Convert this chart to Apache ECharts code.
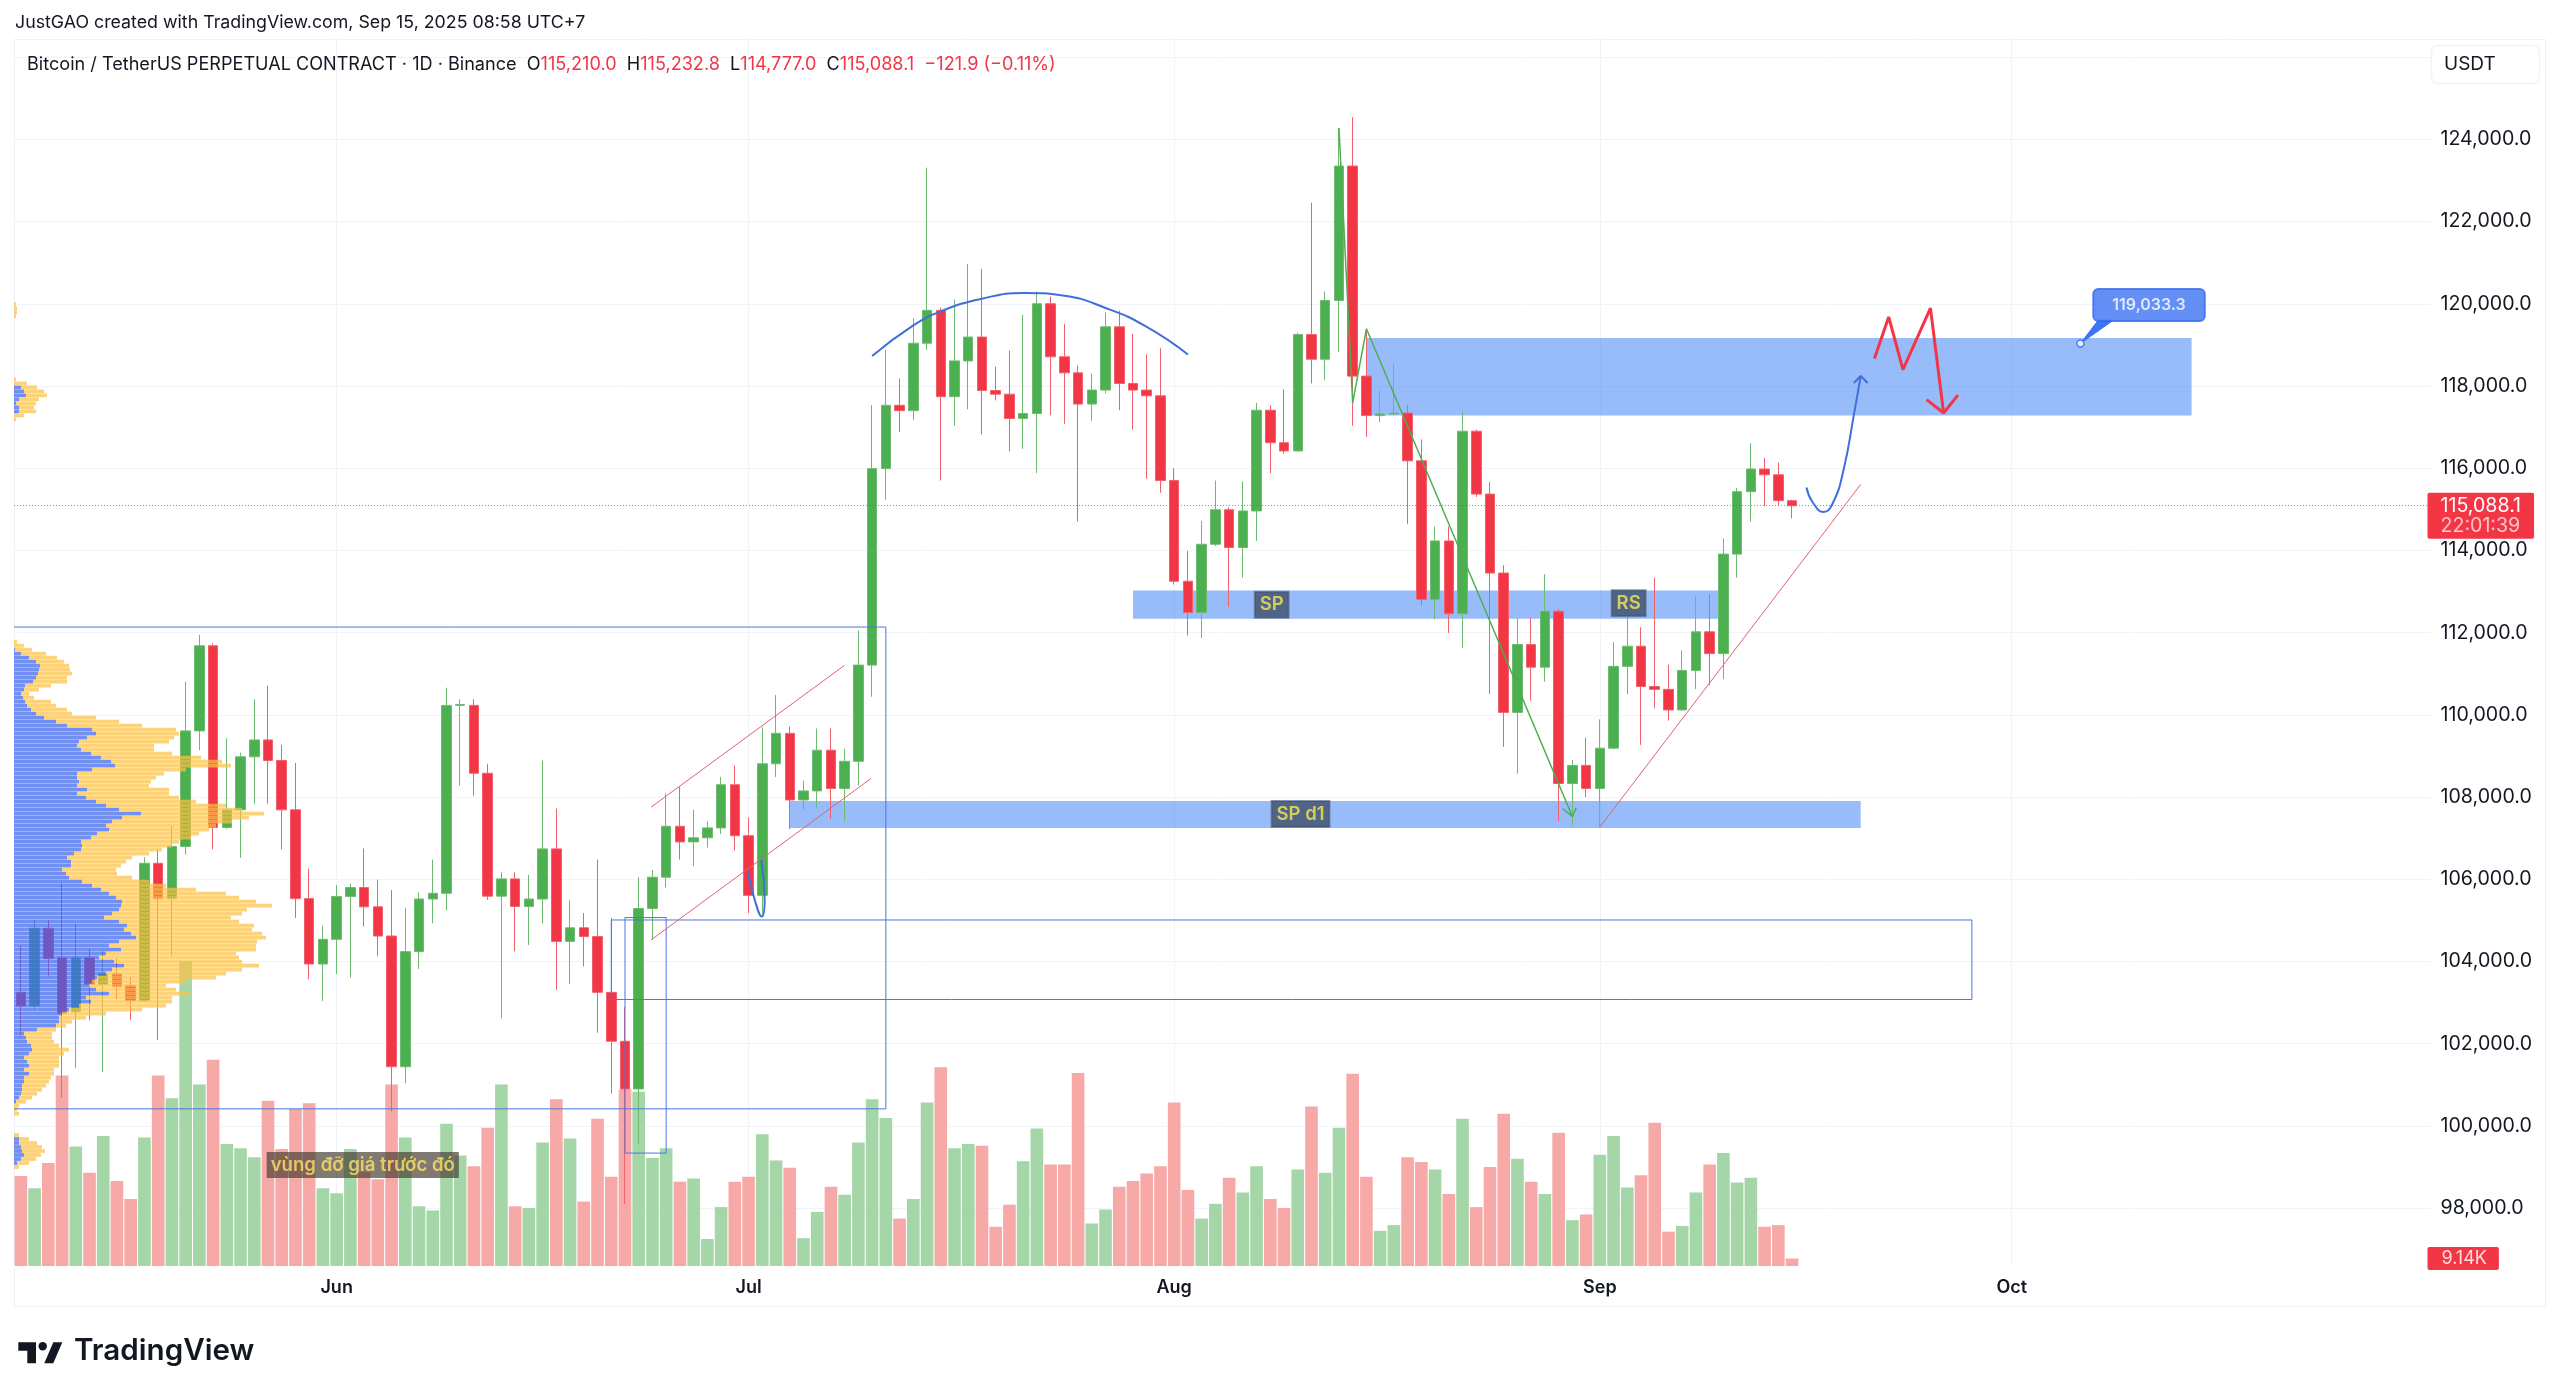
<!DOCTYPE html>
<html>
<head>
<meta charset="UTF-8">
<title>BTCUSDT.P 1D</title>
<script src="https://cdn.jsdelivr.net/npm/echarts@6/dist/echarts.min.js"></script>
<style>
body{margin:0;background:#fff}
</style>
</head>
<body>
<div id="main" style="width:2560px;height:1398px"></div>
<script>
// daily candles, May 9 to Sep 15 2025
var opens = [
 103250,102920,104810,104090,102790,104090,103450,103700,103410,103050,106390,105530,106800,109610,111680,107260,107690,108980,109390,108890,107690,105530,103940,
 104540,105580,105800,105330,104620,101440,104240,105520,105660,110230,110230,108580,105590,106010,105340,105520,106740,104490,104820,104610,103250,102060,100900,105290,106050,107290,106910,107010,107250,108300,
 107060,105610,108810,109550,107930,108150,109140,108210,108870,111210,115990,117530,117400,119040,119840,117740,118610,119190,117890,117800,117210,117330,120000,118710,118320,117560,117900,119440,118060,117900,117760,
 115700,113250,112490,114150,114990,114070,114960,117410,116620,116420,119250,118650,120080,123350,118240,117280,117320,117340,116180,112810,114230,112460,116900,115370,113450,110060,111710,111160,112520,108330,108770,
 108210,109190,111180,111670,110690,110620,110120,111080,112020,111490,113910,115430,115980,115840,115210
];
var closes = [
 102920,104810,104070,102740,104090,103450,103700,103390,103050,106390,105530,106800,109610,111680,107260,107690,108980,109390,108890,107690,105530,103940,104540,
 105580,105800,105330,104620,101440,104240,105520,105660,110230,110250,108580,105590,106010,105340,105520,106740,104490,104820,104610,103250,102060,100900,105290,106050,107290,106910,107010,107250,108300,107060,
 105610,108810,109550,107930,108150,109140,108210,108870,111210,115990,117530,117400,119040,119840,117740,118610,119190,117890,117800,117210,117330,120000,118710,118320,117560,117900,119440,118060,117900,117760,115700,
 113250,112490,114150,114990,114070,114960,117410,116620,116420,119250,118650,120080,123350,118240,117280,117320,117340,116180,112810,114230,112460,116900,115370,113450,110060,111710,111160,112520,108330,108770,108210,
 109190,111180,111670,110690,110620,110120,111080,112020,111490,113910,115430,115980,115840,115210,115088.1
];
var highs = [
 104380,105000,105000,105920,104930,104310,104250,104070,103630,106540,106730,107290,110810,111950,111740,109430,109080,110380,110710,109270,108830,106260,104870,
 105860,105900,106750,105990,105740,105310,105680,106480,110660,110380,110380,108810,106170,106170,106110,108890,107720,105490,105180,106480,105060,102890,106050,106230,108090,108250,107690,107410,108490,108770,
 107510,109700,110480,109720,108400,109670,109670,109180,112050,117530,118880,118180,119650,123310,119910,120100,120970,120850,118470,118860,119730,120300,120180,119510,118500,118300,119790,119830,119270,118770,118920,
 116000,113990,114720,115700,115050,115680,117590,117530,117920,119300,122460,120300,124270,124540,119390,117880,118530,117530,116700,114580,114580,117390,116940,115670,113640,112360,112360,113420,112580,108900,109450,
 109890,111770,112690,112130,113340,111220,111570,112870,112930,114290,115520,116610,116250,116140,115232.8
];
var lows = [
 102210,102830,103630,100690,101410,102580,101310,103080,102580,103020,102090,104130,106600,109140,106730,107220,106520,107840,107840,106730,105060,103570,103040,
 103700,103610,104850,104130,100350,101040,103820,104930,105240,108280,108030,105500,102620,104250,104400,104930,103310,103450,103880,102270,100790,98100,99550,104530,105800,106480,106320,106770,107100,106700,
 105180,105120,108490,107220,107690,107740,107470,107410,108280,110440,115230,116880,117170,118880,115700,117030,117430,116820,117650,116410,116470,115880,117290,117080,114700,117150,117820,117410,116940,115740,115400,
 113170,111930,111870,114110,112630,113340,114230,115880,116350,116400,118060,118140,118830,117030,116760,117120,117290,114640,112670,112320,111990,111630,115300,110510,109220,108570,110340,110810,107420,107310,108000,
 107270,109160,110500,109270,110160,109860,110100,110630,110720,110870,113340,114700,115080,115080,114777
];
// volume pane, thousands of BTC
var volumes = [
 110,95,126,233,146,114,159,104,82,157,233,205,373,222,252,149,144,133,202,143,192,199,95,
 89,143,115,106,222,157,73,68,174,135,122,169,222,73,71,151,204,156,79,180,109,216,213,132,144,103,107,33,72,103,
 109,161,129,120,34,66,97,87,151,204,181,58,82,200,243,144,149,147,48,75,128,168,124,124,236,52,69,97,104,113,122,
 200,93,58,76,108,90,122,82,71,118,195,114,169,235,109,43,50,133,127,118,88,180,72,121,186,131,103,88,163,56,63,
 136,159,96,111,175,42,49,90,124,138,102,108,48,50,9.14
];

var monthNames = ['Jan','Feb','Mar','Apr','May','Jun','Jul','Aug','Sep','Oct','Nov','Dec'];
var startDay = Date.UTC(2025,4,9);
var dayCount = 176;
var categories = [];
var monthLabels = {};
for (var d = 0; d < dayCount; d++) {
  var day = new Date(startDay + d*86400000);
  categories.push(day.toISOString().slice(0,10));
  if (day.getUTCDate() == 1) monthLabels[d] = monthNames[day.getUTCMonth()];
}

// visible range volume profile, rows from the top price downwards
var profileStep = 97.3;
var profileTops = [119990, 118160, 111780, 99780];
var profileBlue = [
 [0,0,0,0],
 [0,0,7,10,12,5,2,5,5,0,0],
 [0,0,1,7,15,22,26,25,24,22,19,11,10,7,9,11,13,17,22,30,42,53,78,82,73,65,63,67,77,87,97,101,78,63,63,65,63,73,63,72,82,92,105,
  127,108,98,92,95,83,77,67,68,67,60,53,57,57,48,52,55,68,78,87,95,102,108,107,105,98,90,105,113,110,117,122,105,95,107,92,85,100,110,98,92,83,
  78,75,82,95,72,77,65,55,48,45,45,42,23,10,12,13,17,18,15,10,13,15,10,15,10,10,8,8,7,5,2,0,0,0],
 [0,5,5,7,8,10,7,3,0]
];
var profileTotal = [
 [2,3,3,2],
 [2,13,23,30,33,25,22,20,22,10,2],
 [3,10,18,32,43,50,55,56,58,53,53,37,25,15,20,37,42,53,58,82,105,128,162,165,160,155,140,140,158,187,208,217,172,150,142,137,135,155,155,165,182,212,228,
  250,235,218,202,195,185,177,165,158,148,135,118,112,107,102,103,118,135,152,182,212,225,242,258,233,228,217,225,240,238,248,252,243,242,242,222,225,228,245,228,212,202,
  172,152,162,175,158,158,152,128,92,72,58,52,42,38,38,40,45,55,50,45,45,45,40,40,37,35,32,28,23,18,12,5,3,5],
 [5,15,23,28,31,27,22,15,5]
];

// drawings, [day index from May 9, price]
var zoneUpper = [[98,119167],[158.1,117280]];
var zoneSP = [[81,113024],[124,112340]];
var zoneSPd1 = [[56,107904],[134,107247]];
var boxLarge = [[-0.5,112136],[63,112136],[63,100416],[-0.5,100416]];
var boxWide = [[43,105010],[142.1,105010],[142.1,103076],[43,103076],[43,105010]];
var boxNarrow = [[44,105069],[47,105069],[47,99340],[44,99340],[44,105069]];
var channelTop = [[45.9,107755],[60,111208]];
var channelBottom = [[45.9,104525],[61.9,108448]];
var trendRight = [[115,107269],[134,115605]];
var dome = [[62,118731],[65,119474],[67,119816],[70,120122],[73,120264],[76,120193],[79,119898],[82,119438],[85,118766]];
var hookJuly = [[52.96,106171],[53.46,105490],[53.96,105094],[54.17,105490],[53.92,106480]];
var greenPath = [[96,124273],[97,117587],[98,119391],[113,107529]];
var greenHead = [[112.3,107717],[113,107529],[113.28,107741]];
var bluePath = [[130.05,115530],[130.5,115172],[131.3,114933],[132,115172],[132.77,115986],[133.5,117290],[134,118245]];
var blueHead = [[133.5,118071],[134,118245],[134.5,118071]];
var redPath = [[135,118668],[136.04,119678],[137.08,118397],[139.08,119895],[140.04,117343]];
var redHead = [[138.8,117669],[140.04,117343],[141.08,117778]];
var calloutAnchor = [150,119033.3];
var calloutBox = [155,119970];
var calloutTail = [[150,119033.3],[151.3,119600],[152.4,119600]];

var tagNames = ['SP','RS','SP d1'];
var tagPoints = [[91.1,112680],[117.1,112716],[93.2,107587]];
var noteName = 'vùng đỡ giá trước đó';
var notePoint = [24.9,99050];

var lastPrice = 115088.1;
var lastVolume = 9.14;

var textFont = 'Inter';
var upColor = '#4caf50', downColor = '#f23645';
var gridColor = '#f0f3fa';
var plotLeft = 14, plotWidth = 2416.5;

function profileRows() {
  var rows = [];
  for (var s = 0; s < profileTops.length; s++) {
    for (var r = 0; r < profileTotal[s].length; r++) {
      rows.push([profileTops[s] - r*profileStep, profileBlue[s][r], profileTotal[s][r]]);
    }
  }
  return rows;
}

function renderProfile(params, api) {
  var price = api.value(0);
  var start = api.coord([0, price]);
  var blueEnd = api.coord([api.value(1), price]);
  var totalEnd = api.coord([api.value(2), price]);
  var h = api.size([0, profileStep])[1]*0.94;
  return {
    type: 'group',
    children: [
      {type:'rect', shape:{x:start[0], y:start[1]-h/2, width:blueEnd[0]-start[0], height:h}, style:{fill:'rgba(60,100,240,0.72)'}},
      {type:'rect', shape:{x:blueEnd[0], y:start[1]-h/2, width:totalEnd[0]-blueEnd[0], height:h}, style:{fill:'rgba(251,192,70,0.72)'}}
    ]
  };
}

function drawing(points, color, width, smooth, dash) {
  return {
    type: 'line', xAxisIndex: 1, yAxisIndex: 0, z: 5,
    data: points, showSymbol: false, silent: true, animation: false,
    smooth: smooth ? 0.5 : false,
    lineStyle: {color: color, width: width, type: dash || 'solid'}
  };
}

function zone(points) {
  return [{coord: points[0]}, {coord: points[1]}];
}

var chart = echarts.init(document.getElementById('main'));

var option = {
  animation: false,
  backgroundColor: '#fff',
  textStyle: {fontFamily: textFont},
  title: [
    {left: 15, top: 14, padding: 0, text: 'JustGAO created with TradingView.com, Sep 15, 2025 08:58 UTC+7',
     textStyle: {fontFamily: textFont, fontSize: 17.8, fontWeight: 400, color: '#131722'}},
    {left: 27, top: 56, padding: 0,
     text: '{k|Bitcoin / TetherUS PERPETUAL CONTRACT · 1D · Binance  O}{v|115,210.0}{k|  H}{v|115,232.8}{k|  L}{v|114,777.0}{k|  C}{v|115,088.1}{v|  −121.9 (−0.11%)}',
     textStyle: {rich: {
       k: {fontFamily: textFont, fontSize: 18.1, fontWeight: 400, color: '#131722'},
       v: {fontFamily: textFont, fontSize: 18.1, fontWeight: 400, color: '#f23645'}
     }}}
  ],
  graphic: [
    {type:'rect', z:-1, shape:{x:14.5, y:39.5, width:2531, height:1267}, style:{fill:'none', stroke:'#f0f1f4', lineWidth:1}},
    {type:'rect', shape:{x:2431.5, y:45.5, width:108, height:38, r:6}, style:{fill:'#fff', stroke:'#f0f3fa', lineWidth:1.5}},
    {type:'text', x:2444, y:55, style:{text:'USDT', font:'19px Inter', fill:'#131722'}},
    {type:'polygon', shape:{points:[[18.3,1342.3],[36,1342.3],[36,1363.3],[27.3,1363.3],[27.3,1350.7],[18.3,1350.7]]}, style:{fill:'#131722'}},
    {type:'circle', shape:{cx:42.7, cy:1346.3, r:4.2}, style:{fill:'#131722'}},
    {type:'polygon', shape:{points:[[53.3,1342.3],[62.3,1342.3],[53.3,1363.3],[44.3,1363.3]]}, style:{fill:'#131722'}},
    {type:'text', x:74, y:1336, style:{text:'TradingView', font:'600 29.6px Inter', fill:'#131722'}}
  ],
  grid: [
    {left: plotLeft, width: plotWidth, top: 57.1, height: 1233.3},
    {left: plotLeft, width: plotWidth, top: 39, height: 1227},
    {left: plotLeft, width: plotWidth, top: 57.1, height: 1233.3}
  ],
  xAxis: [
    {type:'category', gridIndex:0, data:categories, show:false},
    {type:'value', gridIndex:0, min:-0.5, max:dayCount-0.5, show:false},
    {type:'category', gridIndex:1, data:categories,
     axisLine:{show:false}, axisTick:{show:false},
     axisLabel:{
       interval:function(i){ return monthLabels[i] != null; },
       formatter:function(v,i){ return monthLabels[i] || ''; },
       color:'#131722', fontSize:18, fontWeight:600, fontFamily:textFont, margin:13
     },
     splitLine:{show:true, alignWithLabel:true, interval:function(i){ return monthLabels[i] != null; }, lineStyle:{color:gridColor, width:1}}
    },
    {type:'value', gridIndex:2, min:0, max:plotWidth, show:false}
  ],
  yAxis: [
    {type:'value', gridIndex:0, position:'right', min:96000, max:126000, interval:2000,
     axisLine:{show:false}, axisTick:{show:false},
     splitLine:{show:true, showMinLine:false, lineStyle:{color:gridColor, width:1}},
     axisLabel:{
       color:'#131722', fontSize:19.6, fontFamily:textFont, margin:10, padding:[0,0,3,0],
       formatter:function(v){
         if (v == 96000 || v == 126000) return '';
         return v.toLocaleString('en-US') + '.0';
       }
     }},
    {type:'value', gridIndex:1, min:0, max:1500, show:false},
    {type:'value', gridIndex:2, min:96000, max:126000, show:false}
  ],
  series: [
    {
      name: 'Volume', type: 'bar', xAxisIndex: 2, yAxisIndex: 1, z: 1, barWidth: '92%', silent: true,
      data: volumes.map(function(v, i) {
        return {value: v, itemStyle: {color: closes[i] >= opens[i] ? '#a5d6a7' : '#f7a9a7'}};
      }),
      markLine: {
        silent: true, symbol: 'none', lineStyle: {color: 'transparent', width: 0},
        label: {
          position: 'end', distance: -3, formatter: '9.14K',
          backgroundColor: '#f23645', color: '#fcdcdc', fontSize: 18, fontFamily: textFont,
          padding: [3, 12, 2, 14], borderRadius: 2
        },
        data: [{yAxis: lastVolume}]
      }
    },
    {
      name: 'BTCUSDT.P', type: 'candlestick', xAxisIndex: 0, yAxisIndex: 0, z: 2, barWidth: 10, silent: true,
      data: opens.map(function(o, i) { return [o, closes[i], lows[i], highs[i]]; }),
      itemStyle: {
        color: upColor, color0: downColor,
        borderColor: '#6dbb70', borderColor0: '#f2606c', borderWidth: 1
      },
      markLine: {
        silent: true, symbol: 'none',
        lineStyle: {color: 'rgba(242,54,69,0.75)', width: 1, type: [1, 2]},
        label: {
          position: 'end', distance: -3, offset: [0, 10],
          formatter: '{p|115,088.1}\n{t|22:01:39}',
          backgroundColor: '#f23645', padding: [3, 13, 3, 13], borderRadius: 2,
          rich: {
            p: {color: '#fff', fontSize: 19.6, fontFamily: textFont, lineHeight: 20},
            t: {color: '#fbc6ca', fontSize: 19.6, fontFamily: textFont, lineHeight: 20}
          }
        },
        data: [{yAxis: lastPrice}]
      }
    },
    {
      name: 'Profile', type: 'custom', xAxisIndex: 3, yAxisIndex: 2, z: 4, silent: true,
      renderItem: renderProfile,
      encode: {x: [1, 2], y: 0},
      data: profileRows()
    },
    {
      name: 'Zones', type: 'line', xAxisIndex: 1, yAxisIndex: 0, z: 3, data: [], silent: true,
      markArea: {
        silent: true,
        itemStyle: {color: 'rgba(49,121,245,0.5)'},
        data: [zone(zoneUpper), zone(zoneSP), zone(zoneSPd1)]
      }
    },
    drawing(boxLarge, '#4a76e0', 1),
    drawing(boxWide, '#4a76e0', 1),
    drawing(boxNarrow, '#4a76e0', 1),
    drawing(channelTop, '#e0636f', 1),
    drawing(channelBottom, '#e0636f', 1),
    drawing(trendRight, '#e0636f', 1),
    drawing(dome, '#3f6fd8', 2, true),
    drawing(hookJuly, '#3f6fd8', 2, true),
    drawing(greenPath, '#4caf50', 1.5),
    drawing(greenHead, '#4caf50', 1.5),
    drawing(bluePath, '#3f6fd8', 2, true),
    drawing(blueHead, '#3f6fd8', 2),
    drawing(redPath, '#f23645', 3),
    drawing(redHead, '#f23645', 3),
    {
      name: 'Tags', type: 'scatter', xAxisIndex: 1, yAxisIndex: 0, z: 7, symbolSize: 1, silent: true,
      itemStyle: {color: 'transparent'},
      data: tagPoints.map(function(p, i) { return {name: tagNames[i], value: p}; }),
      label: {
        show: true, position: 'inside', formatter: '{b}',
        color: '#f7e84e', fontFamily: textFont, fontSize: 18.5, fontWeight: 600,
        backgroundColor: 'rgba(58,72,100,0.95)', borderColor: '#6b7a99', borderWidth: 1,
        padding: [4, 5, 3, 5]
      }
    },
    {
      name: 'Note', type: 'scatter', xAxisIndex: 1, yAxisIndex: 0, z: 7, symbolSize: 1, silent: true,
      itemStyle: {color: 'transparent'},
      data: [{name: noteName, value: notePoint}],
      label: {
        show: true, position: 'inside', formatter: '{b}',
        color: '#ffe066', fontFamily: textFont, fontSize: 18.6, fontWeight: 600,
        backgroundColor: 'rgba(70,60,50,0.85)', padding: [4, 4, 3, 4]
      }
    },
    {
      name: 'CalloutTail', type: 'custom', xAxisIndex: 1, yAxisIndex: 0, z: 6, silent: true,
      renderItem: function(params, api) {
        return {type: 'polygon', shape: {points: calloutTail.map(function(p) { return api.coord(p); })},
                style: {fill: '#3d73f5', stroke: '#3d73f5'}};
      },
      data: [calloutAnchor]
    },
    {
      name: 'Callout', type: 'scatter', xAxisIndex: 1, yAxisIndex: 0, z: 7, symbolSize: 1, silent: true,
      itemStyle: {color: 'transparent'},
      data: [{name: '119,033.3', value: calloutBox}],
      label: {
        show: true, position: 'inside', formatter: '{b}',
        color: '#fff', fontFamily: textFont, fontSize: 16, fontWeight: 600,
        backgroundColor: '#3d73f5', borderColor: '#2f62e6', borderWidth: 1, borderRadius: 5,
        padding: [8, 19, 8, 19]
      }
    },
    {
      name: 'Anchor', type: 'scatter', xAxisIndex: 1, yAxisIndex: 0, z: 8, symbolSize: 7, silent: true,
      itemStyle: {color: '#fff', borderColor: '#2962ff', borderWidth: 1.5},
      data: [calloutAnchor]
    }
  ]
};

chart.setOption(option);
</script>
</body>
</html>
